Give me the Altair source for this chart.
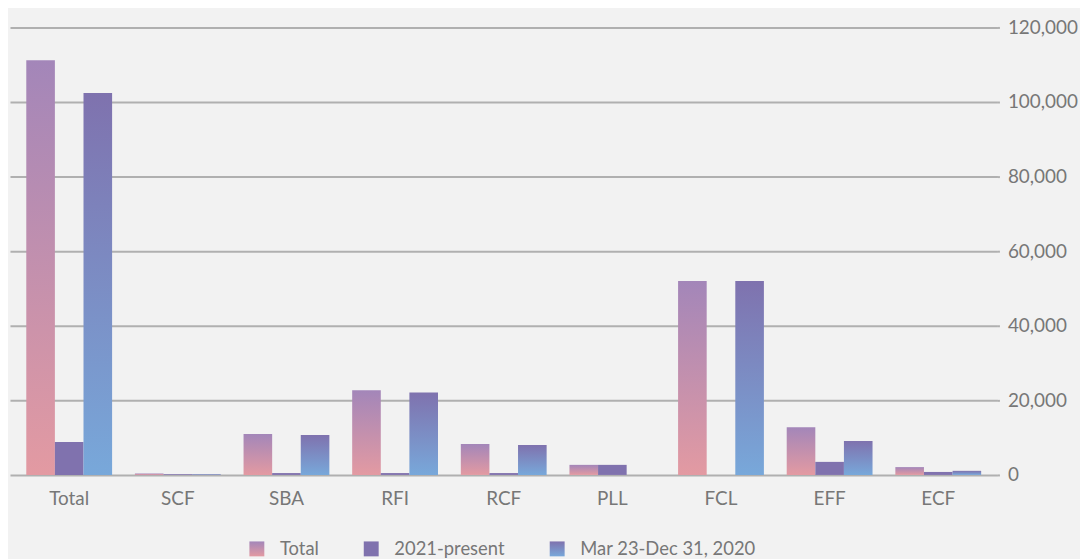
import altair as alt
import pandas as pd

programs = ["Total", "SCF", "SBA", "RFI", "RCF", "PLL", "FCL", "EFF", "ECF"]
series_names = ["Total", "2021-present", "Mar 23-Dec 31, 2020"]
total_vals = [111200, 400, 11000, 22700, 8300, 2700, 52000, 12800, 2100]
recent_vals = [8800, 200, 500, 500, 500, 2700, 0, 3500, 800]
early_vals = [102400, 200, 10700, 22100, 8000, 0, 52000, 9100, 1100]
y_ticks = [0, 20000, 40000, 60000, 80000, 100000, 120000]

rows = []
for i, p in enumerate(programs):
    rows.append({"program": p, "series": series_names[0], "value": total_vals[i]})
    rows.append({"program": p, "series": series_names[1], "value": recent_vals[i]})
    rows.append({"program": p, "series": series_names[2], "value": early_vals[i]})
df = pd.DataFrame(rows)


def grad(top, bottom):
    return {"expr": "{gradient: 'linear', x1: 0, y1: 0, x2: 0, y2: 1, stops: ["
            "{offset: 0, color: '%s'}, {offset: 1, color: '%s'}]}" % (top, bottom)}


color_range = [grad("#a386b9", "#e39aa2"), "#8072ae", grad("#7f72ae", "#78a8da")]

FONT = "Lato"
TXT = "#777777"
GRID = "#b0b0b0"
FS = 19

chart = alt.Chart(df).mark_bar().encode(
    x=alt.X("program:N", sort=programs, title=None,
            scale=alt.Scale(paddingInner=0.21, paddingOuter=0.15),
            axis=alt.Axis(labelAngle=0, labelFontSize=FS, labelColor=TXT, labelFont=FONT,
                          ticks=False, domain=False, labelPadding=15)),
    xOffset=alt.XOffset("series:N", sort=series_names,
                        scale=alt.Scale(domain=series_names, paddingInner=0, paddingOuter=0)),
    y=alt.Y("value:Q", title=None,
            scale=alt.Scale(domain=[0, 120000], nice=False),
            axis=alt.Axis(orient="right", values=y_ticks, format=",d", domain=False,
                          tickSize=2, tickColor=GRID, tickWidth=2,
                          gridColor=GRID, gridWidth=2,
                          labelFontSize=FS, labelColor=TXT, labelFont=FONT, labelPadding=8)),
    color=alt.Color("series:N", sort=series_names,
                    scale=alt.Scale(domain=series_names, range=color_range),
                    legend=alt.Legend(title=None, orient="none", direction="horizontal",
                                      legendX=239, legendY=515,
                                      symbolType="square", symbolSize=225,
                                      symbolStrokeWidth=0,
                                      labelFontSize=18.5, labelColor=TXT, labelFont=FONT,
                                      labelLimit=400,
                                      labelOffset=14, columnPadding=43, padding=0)),
).properties(
    width=993, height=450,
    padding={"left": 2, "top": 9, "right": 2, "bottom": 0},
    background="#f2f2f2",
).configure_view(stroke=None)

chart.save("out.html", embed_options={"renderer": "svg", "actions": False})
